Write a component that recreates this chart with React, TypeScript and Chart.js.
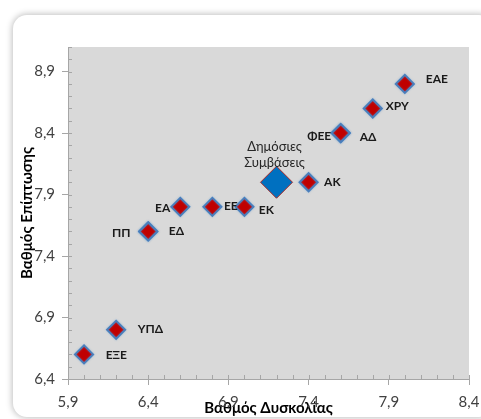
import React, { useEffect, useRef } from 'react';
import { Chart, registerables } from 'chart.js';

Chart.register(...registerables);

// ---- data ----
const LABELS = ['ΕΑΕ', 'ΧΡΥ', 'ΦΕΕ', 'ΑΔ', 'ΑΚ', 'ΕΑ', 'ΕΕ', 'ΕΚ', 'ΠΠ', 'ΕΔ', 'ΥΠΔ', 'ΕΞΕ'];
const DIFFICULTY = [8.0, 7.8, 7.6, 7.6, 7.4, 6.6, 6.8, 7.0, 6.4, 6.4, 6.2, 6.0];
const IMPACT = [8.8, 8.6, 8.4, 8.4, 8.0, 7.8, 7.8, 7.8, 7.6, 7.6, 6.8, 6.6];

const HIGHLIGHT_LABEL = ['Δημόσιες', 'Συμβάσεις'];
const HIGHLIGHT_DIFFICULTY = [7.2];
const HIGHLIGHT_IMPACT = [8.0];

const X_TICKS = [5.9, 6.4, 6.9, 7.4, 7.9, 8.4];
const Y_TICKS = [6.4, 6.9, 7.4, 7.9, 8.4, 8.9];
const X_MIN = 5.9;
const X_MAX = 8.4;
const Y_MIN = 6.4;
const Y_MAX = 9.1;
const MINOR_STEP = 0.1;

const X_TITLE = 'Βαθμός Δυσκολίας';
const Y_TITLE = 'Βαθμός Επίπτωσης';

// label placement relative to its marker: [dx, dy] (negative dx => text ends left of marker)
const LABEL_OFFSETS: number[][] = [
  [21, -4], [13, -1.5], [-9.5, 3.5], [19, 4.3], [15.5, 0.3], [-10, 2],
  [11.6, -0.6], [14.3, 3.9], [-17.7, 2], [20.6, 0.5], [21.7, 0], [21.7, 1.4],
];

const FONT = 'Lato';
const fmt = (v: number) => v.toFixed(1).replace('.', ',');

const plotBg = {
  id: 'plotBg',
  beforeDraw(chart: any) {
    const { ctx, chartArea: a } = chart;
    ctx.save();
    ctx.fillStyle = '#d9d9d9';
    ctx.fillRect(a.left, a.top, a.right - a.left, a.bottom - a.top);
    ctx.restore();
  },
};

const minorTicks = {
  id: 'minorTicks',
  beforeDatasetsDraw(chart: any) {
    const { ctx, chartArea: a, scales } = chart;
    ctx.save();
    ctx.strokeStyle = '#a6a6a6';
    ctx.lineWidth = 1;
    ctx.beginPath();
    const nx = Math.round((X_MAX - X_MIN) / MINOR_STEP);
    for (let i = 0; i <= nx; i++) {
      const px = Math.round(scales.x.getPixelForValue(X_MIN + i * MINOR_STEP)) + 0.5;
      ctx.moveTo(px, a.bottom);
      ctx.lineTo(px, a.bottom - 4);
    }
    const ny = Math.round((Y_MAX - Y_MIN) / MINOR_STEP);
    for (let i = 0; i <= ny; i++) {
      const py = Math.round(scales.y.getPixelForValue(Y_MIN + i * MINOR_STEP)) + 0.5;
      ctx.moveTo(a.left, py);
      ctx.lineTo(a.left + 4, py);
    }
    ctx.stroke();
    ctx.restore();
  },
};

const glow = {
  id: 'glow',
  beforeDatasetDraw(chart: any, args: any) {
    if (args.index === 0) {
      chart.ctx.save();
      chart.ctx.shadowColor = 'rgba(91,155,213,0.5)';
      chart.ctx.shadowBlur = 2;
    }
  },
  afterDatasetDraw(chart: any, args: any) {
    if (args.index === 0) chart.ctx.restore();
  },
};

const pointLabels = {
  id: 'pointLabels',
  afterDatasetsDraw(chart: any) {
    const { ctx } = chart;
    ctx.save();
    ctx.fillStyle = '#1a1a1a';
    ctx.font = `bold 12px ${FONT}`;
    ctx.textBaseline = 'middle';
    chart.getDatasetMeta(0).data.forEach((pt: any, i: number) => {
      const [dx, dy] = LABEL_OFFSETS[i];
      ctx.textAlign = dx < 0 ? 'right' : 'left';
      ctx.fillText(LABELS[i], pt.x + dx, pt.y + dy - 0.5);
    });
    const big = chart.getDatasetMeta(1).data[0];
    ctx.font = `13px ${FONT}`;
    ctx.fillStyle = '#262626';
    ctx.textAlign = 'center';
    ctx.fillText(HIGHLIGHT_LABEL[0], big.x - 2, big.y - 35);
    ctx.fillText(HIGHLIGHT_LABEL[1], big.x - 2, big.y - 19);
    ctx.restore();
  },
};

export default function App() {
  const ref = useRef<HTMLCanvasElement | null>(null);

  useEffect(() => {
    if (!ref.current) return;
    const tickFont = { family: FONT, size: 15 };
    const titleFont = { family: FONT, size: 15, weight: 'bold' as const };
    const chart = new Chart(ref.current, {
      type: 'scatter',
      data: {
        datasets: [
          {
            label: 'items',
            data: DIFFICULTY.map((x, i) => ({ x, y: IMPACT[i] })),
            pointStyle: 'rectRot',
            pointRadius: 9,
            backgroundColor: '#c00000',
            borderColor: '#4a7ebb',
            borderWidth: 2,
          },
          {
            label: HIGHLIGHT_LABEL.join(' '),
            data: HIGHLIGHT_DIFFICULTY.map((x, i) => ({ x, y: HIGHLIGHT_IMPACT[i] })),
            pointStyle: 'rectRot',
            pointRadius: 16,
            backgroundColor: '#0070c0',
            borderColor: '#a52a2a',
            borderWidth: 1,
          },
        ],
      },
      options: {
        responsive: false,
        animation: false,
        events: [],
        layout: { autoPadding: false, padding: { top: 47, right: 12, left: 0, bottom: 0 } },
        plugins: { legend: { display: false }, tooltip: { enabled: false } },
        scales: {
          x: {
            type: 'linear',
            min: X_MIN,
            max: X_MAX,
            afterBuildTicks: (s: any) => { s.ticks = X_TICKS.map((value) => ({ value })); },
            afterFit: (s: any) => { s.height = 40; s.paddingLeft = 0; s.paddingRight = 0; },
            ticks: {
              callback: (v: any) => fmt(Number(v)),
              font: tickFont,
              color: '#404040',
              padding: 8,
              maxRotation: 0,
              autoSkip: false,
            },
            grid: { drawOnChartArea: false, drawTicks: true, tickLength: 6, color: '#a6a6a6' },
            border: { display: true, color: '#a6a6a6' },
            title: { display: true, text: X_TITLE, font: titleFont, color: '#000', padding: { top: 0, bottom: 2 } },
          },
          y: {
            type: 'linear',
            min: Y_MIN,
            max: Y_MAX,
            afterBuildTicks: (s: any) => { s.ticks = Y_TICKS.map((value) => ({ value })); },
            afterFit: (s: any) => { s.width = 68; s.paddingTop = 0; s.paddingBottom = 0; },
            ticks: {
              callback: (v: any) => fmt(Number(v)),
              font: tickFont,
              color: '#404040',
              padding: 7,
              autoSkip: false,
            },
            grid: { drawOnChartArea: false, drawTicks: true, tickLength: 6, color: '#a6a6a6' },
            border: { display: true, color: '#a6a6a6' },
            title: { display: true, text: Y_TITLE, font: titleFont, color: '#000', padding: { top: 18, bottom: 0 } },
          },
        },
      },
      plugins: [plotBg, minorTicks, glow, pointLabels],
    });
    return () => chart.destroy();
  }, []);

  return (
    <div style={{ position: 'absolute', left: 0, top: 0, width: 481, height: 419, background: '#fff', overflow: 'hidden' }}>
      <div
        style={{
          position: 'absolute', left: 13, top: 15, width: 480, height: 402,
          borderRadius: 14, background: '#fff', boxShadow: '0 0 6px 1px rgba(0,0,0,0.25)',
        }}
      />
      <canvas ref={ref} width={481} height={419} style={{ position: 'absolute', left: 0, top: 0 }} />
    </div>
  );
}
